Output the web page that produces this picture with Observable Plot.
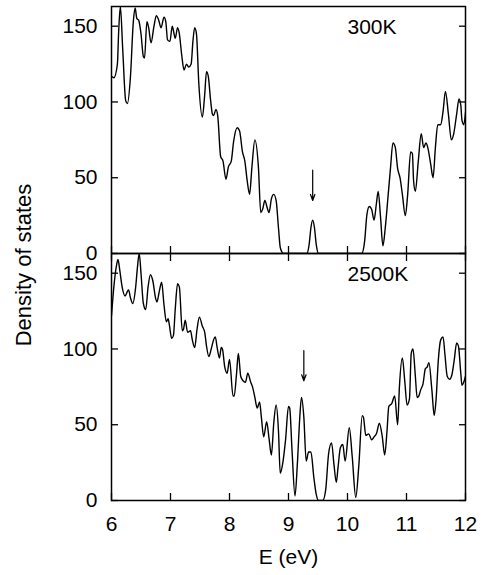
<!DOCTYPE html>
<html>
<head>
<meta charset="utf-8">
<script src="https://cdn.jsdelivr.net/npm/d3@7"></script>
<script src="https://cdn.jsdelivr.net/npm/@observablehq/plot@0.6"></script>
<style>
  html, body { margin: 0; padding: 0; background: white; }
</style>
</head>
<body>
<div id="chart"></div>
<script>
// Panels (temperatures)
const panels = ["300K", "2500K"];

// 300K density of states
const energy300 = [6.00,6.04,6.10,6.12,6.15,6.19,6.24,6.27,6.32,6.37,6.40,6.43,6.46,6.50,6.54,6.56,6.60,6.63,6.67,6.72,6.76,6.80,6.84,6.89,6.92,6.95,6.99,7.03,7.05,7.08,7.12,7.15,7.19,7.23,7.27,7.31,7.35,7.38,7.41,7.44,7.48,7.54,7.58,7.61,7.64,7.68,7.71,7.73,7.77,7.80,7.85,7.89,7.94,7.98,8.03,8.07,8.13,8.17,8.22,8.26,8.30,8.34,8.38,8.43,8.49,8.53,8.56,8.60,8.64,8.67,8.71,8.75,8.79,8.83,8.86,8.89,8.92,9.31,9.35,9.38,9.41,9.44,9.47,9.51,10.24,10.29,10.33,10.37,10.41,10.45,10.49,10.52,10.56,10.60,10.64,10.69,10.73,10.77,10.81,10.85,10.89,10.93,10.98,11.02,11.07,11.10,11.12,11.15,11.20,11.25,11.29,11.33,11.36,11.41,11.45,11.49,11.53,11.58,11.62,11.66,11.71,11.76,11.80,11.85,11.89,11.92,11.94,11.97,12.00];
const dos300 = [117,116,125,145,163,135,101,99,116,153,162,155,154,145,130,129,153,149,139,150,157,154,149,156,153,141,140,150,147,142,149,145,131,121,125,123,125,140,149,145,112,90,105,120,117,101,92,91,95,91,64,61,49,57,61,74,83,81,67,61,48,39,57,75,57,27,29,35,30,27,36,39,35,17,4,1,0,0,6,17,22,17,6,0,0,8,26,31,29,22,33,41,24,5,17,39,57,73,70,56,50,39,25,39,67,66,48,41,61,79,70,73,70,59,50,70,85,85,94,107,92,75,79,92,102,98,88,85,93];

// 2500K density of states
const energy2500 = [6.00,6.04,6.08,6.11,6.14,6.18,6.23,6.27,6.29,6.32,6.36,6.41,6.44,6.47,6.50,6.54,6.58,6.62,6.66,6.70,6.75,6.77,6.81,6.85,6.89,6.93,6.96,6.98,7.02,7.05,7.08,7.12,7.15,7.20,7.22,7.25,7.29,7.34,7.37,7.41,7.45,7.49,7.54,7.58,7.61,7.65,7.69,7.73,7.76,7.79,7.83,7.86,7.88,7.92,7.96,8.00,8.06,8.08,8.12,8.15,8.19,8.23,8.27,8.31,8.36,8.39,8.43,8.47,8.51,8.54,8.58,8.63,8.67,8.71,8.75,8.79,8.83,8.86,8.90,8.95,9.00,9.02,9.06,9.11,9.15,9.19,9.22,9.26,9.30,9.34,9.38,9.43,9.47,9.51,9.58,9.63,9.68,9.73,9.77,9.81,9.84,9.88,9.92,9.96,10.03,10.08,10.14,10.19,10.25,10.27,10.31,10.36,10.41,10.45,10.49,10.54,10.59,10.63,10.67,10.70,10.75,10.80,10.85,10.88,10.93,10.97,11.01,11.05,11.08,11.11,11.15,11.18,11.21,11.24,11.28,11.32,11.35,11.38,11.43,11.47,11.50,11.54,11.58,11.62,11.65,11.69,11.73,11.77,11.81,11.85,11.88,11.92,11.94,11.97,12.00];
const dos2500 = [122,141,154,159,152,141,135,138,139,134,130,141,154,163,150,130,126,141,149,145,133,131,138,144,129,118,120,116,107,109,126,143,141,112,113,119,111,112,106,101,113,121,115,111,102,95,100,106,108,101,94,101,100,88,84,93,69,69,84,97,82,79,78,84,78,75,68,61,65,55,42,52,41,30,51,63,46,18,24,40,62,61,33,3,24,54,68,55,26,32,32,15,4,0,0,7,31,38,24,12,22,35,37,26,48,29,2,22,56,55,43,44,40,42,44,51,42,30,46,62,64,69,50,75,94,79,63,67,97,100,82,68,69,73,77,87,88,91,73,56,66,93,106,108,97,82,80,83,93,104,102,84,76,78,82];

// Axis ticks
const xTicks = [6, 7, 8, 9, 10, 11, 12];
const yTicks = [0, 50, 100, 150];

// Arrows marking the gap state (panel, energy, from, to)
const arrowPanel = ["300K", "2500K"];
const arrowE = [9.41, 9.26];
const arrowFrom = [55, 99];
const arrowTo = [35, 79];

const rows = [
  ...energy300.map((e, i) => ({panel: panels[0], E: e, dos: dos300[i]})),
  ...energy2500.map((e, i) => ({panel: panels[1], E: e, dos: dos2500[i]}))
];
const arrows = arrowPanel.map((p, i) => ({panel: p, E: arrowE[i], from: arrowFrom[i], to: arrowTo[i]}));

const FONT = "'Liberation Sans', Arial, Helvetica, sans-serif";

const chart = Plot.plot({
  width: 489,
  height: 575,
  marginTop: 5,
  marginBottom: 75,
  marginLeft: 111,
  marginRight: 24,
  style: {fontFamily: FONT, fontSize: "21px", color: "black", background: "white", overflow: "visible"},
  x: {domain: [6, 12]},
  y: {domain: [0, 163]},
  fy: {domain: panels, padding: 0, axis: null, label: null},
  marks: [
    Plot.line(rows, {x: "E", y: "dos", fy: "panel", stroke: "black", strokeWidth: 1.4, curve: "monotone-x", clip: true}),
    Plot.arrow(arrows, {x1: "E", x2: "E", y1: "from", y2: "to", fy: "panel", stroke: "black", strokeWidth: 1.2, headLength: 8, headAngle: 40}),
    Plot.text(panels, {fy: d => d, text: d => d, frameAnchor: "top-left", dx: 236, dy: 21, textAnchor: "start", lineAnchor: "middle", fontSize: 21}),
    // left axis: inward ticks + labels
    Plot.axisY(yTicks, {anchor: "left", tickSize: -7, tickPadding: 21, label: null, strokeWidth: 1.3}),
    // right axis: inward ticks only
    Plot.axisY(yTicks, {anchor: "right", tickSize: -7, fill: "none", label: null, strokeWidth: 1.3}),
    // bottom edge of each panel: inward ticks
    Plot.axisX(xTicks, {anchor: "bottom", tickSize: -7, fill: "none", label: null, facetAnchor: null, strokeWidth: 1.3}),
    // top edge of bottom panel: inward ticks
    Plot.axisX(xTicks, {anchor: "top", tickSize: -7, fill: "none", label: null, facetAnchor: "bottom", strokeWidth: 1.3}),
    // bottom tick labels and axis title
    Plot.axisX(xTicks, {anchor: "bottom", tickSize: 0, tickPadding: 16, label: "E (eV)", labelAnchor: "center", labelArrow: "none", labelOffset: 63}),
    Plot.frame({stroke: "black", strokeWidth: 1.5})
  ]
});

d3.select(chart).append("text")
  .attr("transform", "translate(23,265) rotate(-90)")
  .attr("text-anchor", "middle")
  .attr("dominant-baseline", "central")
  .attr("font-family", FONT)
  .attr("font-size", 22)
  .attr("fill", "black")
  .text("Density of states");

document.getElementById("chart").appendChild(chart);
</script>
</body>
</html>
